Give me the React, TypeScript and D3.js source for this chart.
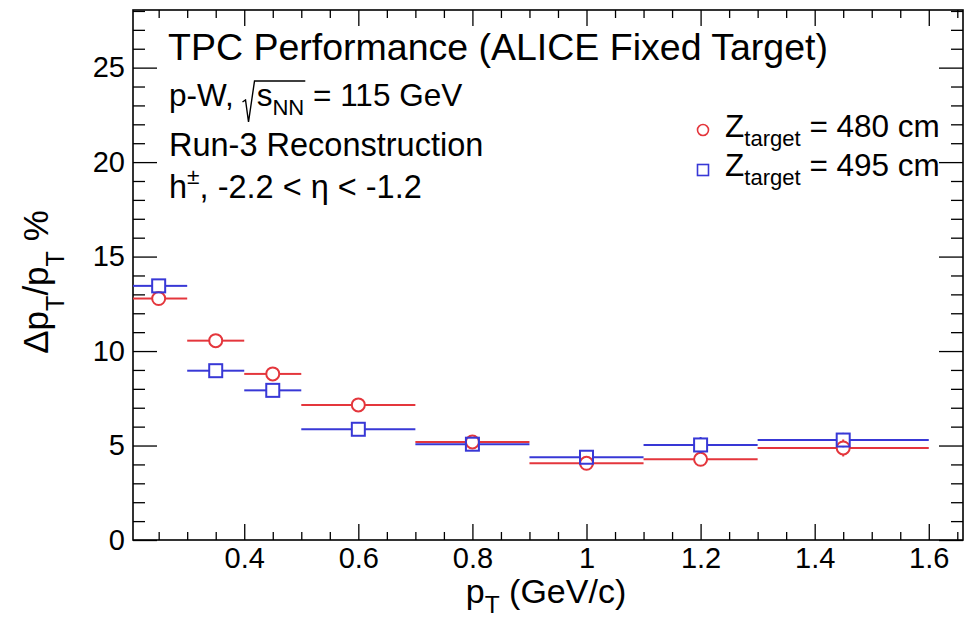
import React, { useEffect, useRef } from 'react';
import * as d3 from 'd3';

// ---- data ----
const binLow = [0.2, 0.3, 0.4, 0.5, 0.7, 0.9, 1.1, 1.3];
const binHigh = [0.3, 0.4, 0.5, 0.7, 0.9, 1.1, 1.3, 1.6];
const binCenter = [0.25, 0.35, 0.45, 0.6, 0.8, 1.0, 1.2, 1.45];
const res480 = [12.78, 10.55, 8.79, 7.15, 5.19, 4.06, 4.27, 4.87];
const err480 = [0.1, 0.1, 0.1, 0.12, 0.2, 0.25, 0.3, 0.45];
const res495 = [13.45, 8.96, 7.92, 5.86, 5.07, 4.38, 5.03, 5.29];
const err495 = [0.1, 0.1, 0.1, 0.12, 0.2, 0.3, 0.42, 0.38];
const xMajorTicks = [0.4, 0.6, 0.8, 1.0, 1.2, 1.4, 1.6];
const yMajorTicks = [0, 5, 10, 15, 20, 25];
const legendLabels = ['480 cm', '495 cm'];

const W = 974;
const H = 618;
const FRAME = { left: 133, right: 963, top: 10, bottom: 540 };
const X_DOMAIN = [0.205, 1.66];
const Y_DOMAIN = [0, 28.05];
const RED = '#e4363c';
const BLUE = '#3838d6';
const FONT = "'Liberation Sans', Arial, Helvetica, sans-serif";

type Part = { t: string; sub?: boolean; sup?: boolean; gap?: number; scale?: number; drop?: number };

function rich(parent: any, parts: Part[], fs: number) {
  const g = parent.append('g');
  let cx = 0;
  const pos: { x: number; w: number }[] = [];
  parts.forEach((p) => {
    if (p.gap) {
      pos.push({ x: cx, w: p.gap });
      cx += p.gap;
      return;
    }
    const sc = p.scale ?? 0.7;
    const size = p.sub || p.sup ? fs * sc : fs;
    const dy = p.sub ? fs * (p.drop ?? 0.3) : p.sup ? -fs * 0.42 : 0;
    const el = g
      .append('text')
      .attr('x', cx)
      .attr('y', dy)
      .attr('font-size', size)
      .attr('font-family', FONT)
      .attr('fill', '#000')
      .style('white-space', 'pre')
      .text(p.t);
    const w = (el.node() as SVGTextElement).getComputedTextLength();
    pos.push({ x: cx, w });
    cx += w;
  });
  return { g, width: cx, pos };
}

export default function App() {
  const ref = useRef<SVGSVGElement>(null);

  useEffect(() => {
    const svg = d3.select(ref.current);
    svg.selectAll('*').remove();

    const x = d3.scaleLinear().domain(X_DOMAIN).range([FRAME.left, FRAME.right]);
    const y = d3.scaleLinear().domain(Y_DOMAIN).range([FRAME.bottom, FRAME.top]);

    const xMinor = d3
      .range(5, 34)
      .filter((i) => i % 4 !== 0)
      .map((i) => i * 0.05);
    const yMinor = d3
      .range(1, 29)
      .filter((i) => i % 5 !== 0);

    const styleAxis = (g: any) => {
      g.select('.domain').remove();
      g.selectAll('line').attr('stroke', '#000').attr('stroke-width', 1.3);
      g.attr('font-family', FONT).attr('font-size', 29);
      g.selectAll('text').attr('fill', '#000');
    };

    // bottom axis
    svg.append('g').attr('transform', `translate(0,${FRAME.bottom})`)
      .call(d3.axisBottom(x).tickValues(xMinor).tickSize(-8).tickFormat(() => '') as any).call(styleAxis);
    svg.append('g').attr('transform', `translate(0,${FRAME.bottom})`)
      .call(d3.axisBottom(x).tickValues(xMajorTicks).tickSize(-16).tickPadding(7).tickFormat(d3.format('~g')) as any).call(styleAxis);
    // top axis
    svg.append('g').attr('transform', `translate(0,${FRAME.top})`)
      .call(d3.axisTop(x).tickValues(xMinor).tickSize(-8).tickFormat(() => '') as any).call(styleAxis);
    svg.append('g').attr('transform', `translate(0,${FRAME.top})`)
      .call(d3.axisTop(x).tickValues(xMajorTicks).tickSize(-16).tickFormat(() => '') as any).call(styleAxis);
    // left axis
    svg.append('g').attr('transform', `translate(${FRAME.left},0)`)
      .call(d3.axisLeft(y).tickValues(yMinor).tickSize(-12).tickFormat(() => '') as any).call(styleAxis);
    svg.append('g').attr('transform', `translate(${FRAME.left},0)`)
      .call(d3.axisLeft(y).tickValues(yMajorTicks).tickSize(-24).tickPadding(8).tickFormat(d3.format('d')) as any).call(styleAxis);
    // right axis
    svg.append('g').attr('transform', `translate(${FRAME.right},0)`)
      .call(d3.axisRight(y).tickValues(yMinor).tickSize(-12).tickFormat(() => '') as any).call(styleAxis);
    svg.append('g').attr('transform', `translate(${FRAME.right},0)`)
      .call(d3.axisRight(y).tickValues(yMajorTicks).tickSize(-24).tickFormat(() => '') as any).call(styleAxis);

    // frame
    svg.append('rect')
      .attr('x', FRAME.left).attr('y', FRAME.top)
      .attr('width', FRAME.right - FRAME.left).attr('height', FRAME.bottom - FRAME.top)
      .attr('fill', 'none').attr('stroke', '#000').attr('stroke-width', 1.6);

    // data
    const R = 6.5;
    const drawSeries = (vals: number[], errs: number[], color: string, shape: 'circle' | 'square') => {
      const g = svg.append('g').attr('stroke', color).attr('stroke-width', 2).attr('fill', 'none');
      vals.forEach((v, i) => {
        const cx = x(binCenter[i]);
        const cy = y(v);
        const xl = Math.max(x(binLow[i]), FRAME.left);
        const xr = Math.min(x(binHigh[i]), FRAME.right);
        g.append('line').attr('x1', xl).attr('x2', cx - R).attr('y1', cy).attr('y2', cy);
        g.append('line').attr('x1', cx + R).attr('x2', xr).attr('y1', cy).attr('y2', cy);
        const ey = y(v - errs[i]) - cy;
        if (ey > R) {
          g.append('line').attr('x1', cx).attr('x2', cx).attr('y1', cy - R).attr('y2', cy - ey);
          g.append('line').attr('x1', cx).attr('x2', cx).attr('y1', cy + R).attr('y2', cy + ey);
        }
        if (shape === 'circle') {
          g.append('circle').attr('cx', cx).attr('cy', cy).attr('r', R);
        } else {
          g.append('rect').attr('x', cx - R).attr('y', cy - R).attr('width', 2 * R).attr('height', 2 * R);
        }
      });
    };
    drawSeries(res480, err480, RED, 'circle');
    drawSeries(res495, err495, BLUE, 'square');

    // text block
    const t1 = rich(svg, [{ t: 'TPC Performance (ALICE Fixed Target)' }], 37.5);
    t1.g.attr('transform', 'translate(168,60)');

    const f2 = 31.5;
    const t2 = rich(svg, [
      { t: 'p-W, ' },
      { gap: f2 * 0.45 },
      { t: 's' },
      { t: 'NN', sub: true, drop: 0.3 },
      { t: ' = 115 GeV' },
    ], f2);
    t2.g.attr('transform', 'translate(169,106)');
    {
      const rx = t2.pos[1].x;
      const endX = t2.pos[3].x + t2.pos[3].w + 1;
      t2.g.append('path')
        .attr('d', `M${rx},${-4} L${rx + 3},${-6} L${rx + 6},${16} L${rx + 12},${-25} L${endX},${-25}`)
        .attr('fill', 'none').attr('stroke', '#000').attr('stroke-width', 1.4);
    }

    const t3 = rich(svg, [{ t: 'Run-3 Reconstruction' }], 32.5);
    t3.g.attr('transform', 'translate(169,156)');

    const t4 = rich(svg, [
      { t: 'h' },
      { t: '\u00b1', sup: true },
      { t: ', -2.2 < \u03b7 < -1.2' },
    ], 32.5);
    t4.g.attr('transform', 'translate(169,198)');

    // legend
    const legendY = [130, 170];
    const legendTextY = [137, 176];
    legendLabels.forEach((lab, i) => {
      const color = i === 0 ? RED : BLUE;
      if (i === 0) {
        svg.append('circle').attr('cx', 703).attr('cy', legendY[i]).attr('r', 5.5)
          .attr('fill', 'none').attr('stroke', color).attr('stroke-width', 1.6);
      } else {
        svg.append('rect').attr('x', 697.5).attr('y', legendY[i] - 5.5).attr('width', 11).attr('height', 11)
          .attr('fill', 'none').attr('stroke', color).attr('stroke-width', 1.6);
      }
      const lt = rich(svg, [
        { t: 'Z' },
        { t: 'target', sub: true, drop: 0.3 },
        { t: ' = ' + lab },
      ], 31.5);
      lt.g.attr('transform', `translate(725,${legendTextY[i]})`);
    });

    // axis titles
    const xt = rich(svg, [
      { t: 'p' },
      { t: 'T', sub: true, drop: 0.3, scale: 0.72 },
      { t: ' (GeV/c)' },
    ], 34);
    xt.g.attr('transform', `translate(${546 - xt.width / 2},603)`);

    const yt = rich(svg, [
      { t: '\u0394p' },
      { t: 'T', sub: true, drop: 0.45, scale: 0.72 },
      { t: '/p' },
      { t: 'T', sub: true, drop: 0.45, scale: 0.72 },
      { t: ' %' },
    ], 35);
    yt.g.attr('transform', `translate(48,${282 + yt.width / 2}) rotate(-90)`);
  }, []);

  return (
    <svg
      ref={ref}
      width={W}
      height={H}
      style={{ position: 'absolute', left: 0, top: 0, background: '#fff' }}
    />
  );
}
